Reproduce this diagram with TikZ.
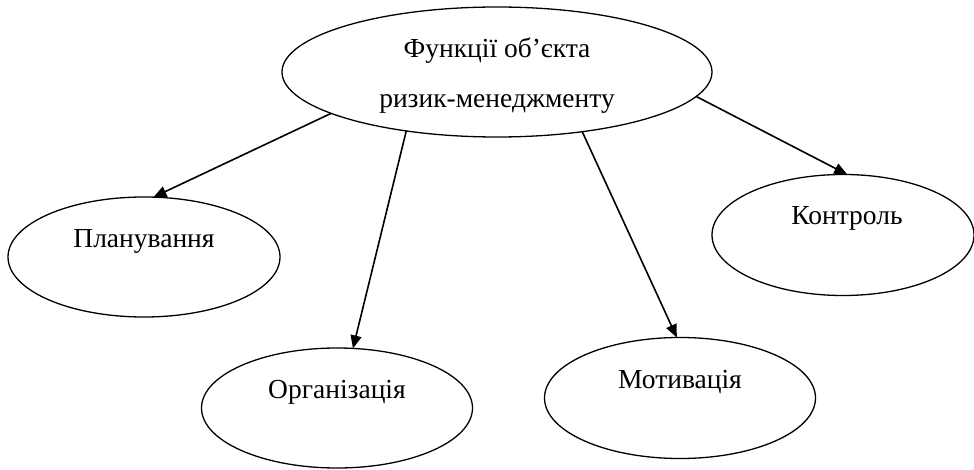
\documentclass[tikz,border=0pt]{standalone}
\usepackage{fontspec}
\setmainfont{Liberation Serif}
\usetikzlibrary{shapes.geometric,arrows.meta}
\begin{document}
\begin{tikzpicture}[x=1pt,y=-1pt,
  oval/.style={ellipse,draw,line width=1.3pt,inner sep=0pt,outer sep=0pt},
  lbl/.style={anchor=base,inner sep=0pt,font=\fontsize{27.5}{32}\selectfont},
  arr/.style={-{Triangle[length=13pt,width=11pt]},line width=1.6pt}]
\useasboundingbox[fill=white] (0,0) rectangle (974,470);
% ellipses
\node[oval,minimum width=430pt,minimum height=130pt] (top) at (497,72) {};
\node[oval,minimum width=272pt,minimum height=120pt] (plan) at (144,257) {};
\node[oval,minimum width=271pt,minimum height=120pt] (org) at (337,408) {};
\node[oval,minimum width=271pt,minimum height=121pt] (mot) at (680,398) {};
\node[oval,minimum width=262pt,minimum height=121pt] (ctrl) at (843,235) {};
% texts
\node[lbl] (t1) at (497,58) {Функції об’єкта};
\node[lbl] (t2) at (497,108) {ризик-менеджменту};
\node[lbl] (tplan) at (144,248) {Планування};
\node[lbl] (torg) at (337,398) {Організація};
\node[lbl] (tmot) at (680,388) {Мотивація};
\node[lbl] (tctrl) at (847,225) {Контроль};
% arrows
\draw[arr] (top.194.4) -- (plan.81.5);
\draw[arr] (top.213.7) -- (org.75.3);
\draw[arr] (top.325.2) -- (mot.93.8);
\draw[arr] (top.353.4) -- (ctrl.86);
\end{tikzpicture}
\end{document}
